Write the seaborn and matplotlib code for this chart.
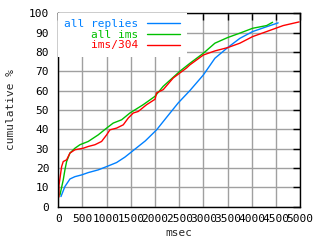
import matplotlib
matplotlib.use("Agg")
import matplotlib.pyplot as plt
import seaborn as sns
import pandas as pd

series_names = ["all replies", "all ims", "ims/304"]
series_colors = ["#0080ff", "#00c000", "#ff0000"]

blue_x = [56, 138, 242, 345, 483, 620, 826, 1000, 1206, 1378, 1549, 1800, 2033, 2250, 2479, 2721, 3000, 3238, 3500, 3754, 4017, 4306, 4545]
blue_y = [5.2, 10.4, 14.3, 15.5, 16.4, 17.6, 19.0, 20.7, 22.8, 25.6, 29.0, 34.0, 39.7, 46.5, 53.6, 60.0, 68.1, 76.7, 82.2, 87.0, 90.5, 93.0, 95.0]

green_x = [35, 103, 138, 173, 242, 345, 448, 620, 826, 1000, 1136, 1310, 1481, 1756, 1998, 2170, 2514, 2721, 3000, 3238, 3500, 3754, 4017, 4306, 4430]
green_y = [6.0, 13.8, 19.0, 23.3, 27.7, 30.2, 32.0, 33.7, 37.1, 40.6, 43.2, 44.9, 48.4, 52.7, 57.0, 62.2, 70.0, 74.1, 79.3, 84.5, 87.4, 89.7, 92.2, 93.6, 95.3]

red_x = [15, 15, 70, 103, 173, 242, 345, 517, 620, 758, 896, 1000, 1068, 1206, 1344, 1447, 1550, 1653, 1826, 2000, 2033, 2170, 2376, 2652, 2721, 3000, 3238, 3500, 3754, 4017, 4306, 4649, 4979]
red_y = [5.0, 11.0, 20.7, 23.3, 24.2, 27.7, 29.4, 30.2, 31.1, 32.0, 33.7, 37.1, 39.7, 40.6, 42.3, 45.8, 48.4, 49.2, 52.7, 55.5, 58.8, 60.5, 66.5, 71.7, 73.3, 78.4, 80.5, 82.2, 84.5, 87.9, 90.5, 93.6, 95.5]

x_ticks = list(range(0, 5001, 500))
y_ticks = list(range(0, 101, 10))

frames = []
for name, xs, ys in zip(series_names, [blue_x, green_x, red_x], [blue_y, green_y, red_y]):
    frames.append(pd.DataFrame({"msec": xs, "pct": ys, "series": name}))
df = pd.concat(frames, ignore_index=True)

sns.set_theme(style="white")
plt.rcParams["font.family"] = ["DejaVu Sans Mono", "DejaVu Sans"]

FS = 8

fig = plt.figure(figsize=(3.2, 2.4), dpi=100)
ax = fig.add_axes([0.182, 0.139, 0.756, 0.806])

sns.lineplot(data=df, x="msec", y="pct", hue="series", hue_order=series_names,
             palette=series_colors, estimator=None, sort=False, lw=1.0, ax=ax,
             legend=True)

ax.set_xlim(0, 5000)
ax.set_ylim(0, 100)
ax.set_xticks(x_ticks)
ax.set_yticks(y_ticks)
ax.grid(True, color="#a0a0a0", lw=1.0)
ax.set_axisbelow(True)
for s in ax.spines.values():
    s.set_color("black")
    s.set_linewidth(1.0)
ax.tick_params(axis="both", direction="in", length=5, width=1, color="black",
               top=True, right=True, labelsize=FS, labelcolor="black")
ax.tick_params(axis="y", pad=6.5)
ax.tick_params(axis="x", pad=5.0)

ax.set_xlabel("msec", fontsize=FS, labelpad=3)
ax.set_ylabel("cumulative %", fontsize=FS, labelpad=9)

handles, labels = ax.get_legend_handles_labels()
width = max(len(l) for l in labels)
padded = [l.rjust(width) for l in labels]
leg = ax.legend(handles, padded, loc="upper left", bbox_to_anchor=(0.0, 1.0),
                markerfirst=False, fontsize=FS, frameon=True, fancybox=False,
                framealpha=1.0, facecolor="white", edgecolor="none",
                handlelength=3.05, handletextpad=0.72, labelspacing=0.05,
                borderpad=0.55, borderaxespad=0.0)
for t, line in zip(leg.get_texts(), leg.get_lines()):
    t.set_color(line.get_color())
    line.set_linewidth(1.0)

fig.savefig("out.png", dpi=100)
